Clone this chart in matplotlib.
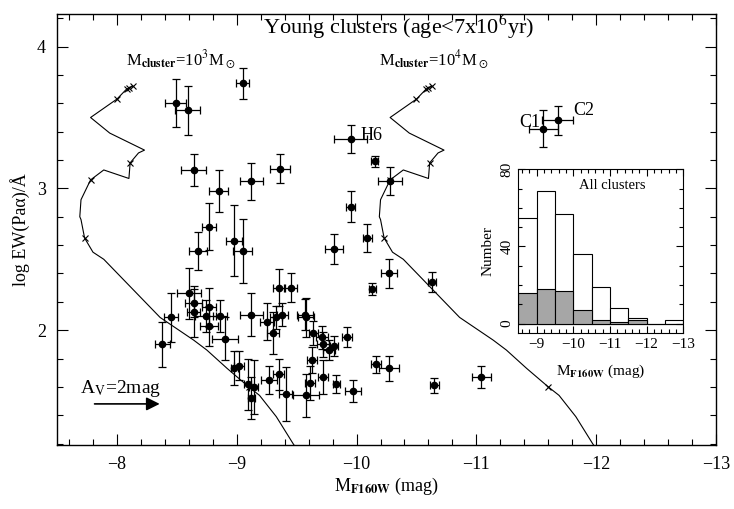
import numpy as np
import matplotlib
matplotlib.use("Agg")
import matplotlib.pyplot as plt
from matplotlib.ticker import MultipleLocator

plt.rcParams['font.family'] = ['Liberation Serif', 'DejaVu Serif']
plt.rcParams['mathtext.fontset'] = 'stix'

# young clusters: M_F160W, log EW(Pa alpha), errors
mag = [-9.05, -8.49, -8.59, -8.64, -8.85, -9.12, -9.36, -8.77, -8.68, -8.98,
       -9.05, -9.95, -10.15, -10.28, -9.95, -9.81, -10.09, -10.27, -10.13, -10.63,
       -10.65, -11.04, -11.56, -11.68,
       -8.60, -8.64, -8.64, -8.77, -8.74, -8.86, -8.77, -8.45, -8.38, -8.90,
       -9.12, -9.35, -9.45, -9.25, -9.33, -9.38, -9.30, -9.57, -9.58, -9.64,
       -9.71, -9.72, -9.77, -9.81, -9.92, -9.63, -10.16, -10.27, -8.98, -9.02,
       -9.09, -9.14, -9.12, -9.27, -9.35, -9.41, -9.58, -9.61, -9.72, -9.83, -9.97]
logew = [3.74, 3.60, 3.55, 3.13, 2.98, 3.05, 3.14, 2.73, 2.56, 2.63,
         2.56, 3.35, 3.19, 3.05, 2.87, 2.57, 2.65, 2.40, 2.29, 2.34,
         1.61, 1.67, 3.42, 3.48,
         2.26, 2.19, 2.13, 2.16, 2.10, 2.10, 2.03, 2.09, 1.90, 1.94,
         2.11, 2.30, 2.30, 2.06, 2.09, 2.11, 1.98, 2.11, 2.09, 1.98,
         1.95, 1.90, 1.86, 1.89, 1.95, 1.79, 1.76, 1.73, 1.73, 1.75,
         1.62, 1.60, 1.52, 1.65, 1.69, 1.55, 1.54, 1.63, 1.67, 1.62, 1.57]
mag_err = [0.055, 0.09, 0.105, 0.105, 0.078, 0.096, 0.085, 0.057, 0.075, 0.067,
           0.078, 0.14, 0.03, 0.10, 0.04, 0.074, 0.04, 0.065, 0.03, 0.035,
           0.04, 0.078, 0.125, 0.13,
           0.10, 0.07, 0.055, 0.06, 0.09, 0.06, 0.075, 0.06, 0.065, 0.11,
           0.095, 0.05, 0.055, 0.06, 0.05, 0.045, 0.05, 0.067, 0.067, 0.04,
           0.05, 0.05, 0.05, 0.035, 0.04, 0.04, 0.04, 0.085, 0.03, 0.04,
           0.03, 0.04, 0.03, 0.065, 0.045, 0.055, 0.11, 0.04, 0.04, 0.03, 0.065]
logew_err = [0.11, 0.17, 0.17, 0.11, 0.15, 0.13, 0.10, 0.165, 0.135, 0.25,
             0.225, 0.10, 0.04, 0.10, 0.11, 0.106, 0.10, 0.10, 0.04, 0.07,
             0.05, 0.077, 0.13, 0.10,
             0.18, 0.10, 0.18, 0.14, 0.11, 0.11, 0.14, 0.17, 0.16, 0.15,
             0.15, 0.13, 0.10, 0.13, 0.08, 0.08, 0.15, 0.11, 0.14, 0.085,
             0.08, 0.09, 0.07, 0.07, 0.07, 0.09, 0.06, 0.085, 0.12, 0.10,
             0.18, 0.19, 0.15, 0.10, 0.11, 0.19, 0.15, 0.12, 0.12, 0.065, 0.08]

# model track for a 10^3 Msun cluster
track_mag = [-8.13, -8.08, -8.00, -7.78, -7.94, -8.23, -8.18, -8.11, -8.10, -7.89,
             -7.78, -7.70, -7.69, -7.70, -7.73, -7.80, -7.89, -8.36, -8.64, -8.75,
             -8.92, -9.10, -9.19, -9.33, -9.47, -9.55]
track_ew = [3.72, 3.70, 3.63, 3.50, 3.39, 3.27, 3.25, 3.18, 3.07, 3.13,
            3.06, 2.92, 2.80, 2.78, 2.65, 2.55, 2.50, 2.09, 1.93, 1.86,
            1.73, 1.60, 1.54, 1.39, 1.20, 1.10]
age_mag = [-8.13, -8.10, -8.08, -8.00, -8.11, -7.78, -7.73, -9.10]
age_ew = [3.72, 3.71, 3.70, 3.63, 3.18, 3.06, 2.65, 1.60]
mass_shift = -2.5 * np.log10(1e4 / 1e3)

# inset histogram
bin_edges = [-8.5, -9.0, -9.5, -10.0, -10.5, -11.0, -11.5, -12.0, -12.5, -13.0]
n_all = [55, 69, 57, 36, 19, 8, 3, 0, 2]
n_young = [16, 18, 17, 7, 2, 1, 2, 0, 0]

fig = plt.figure(figsize=(7.34, 5.09), dpi=100)
ax = fig.add_axes([0.0777, 0.1257, 0.8978, 0.8468])

ax.errorbar(mag, logew, xerr=mag_err, yerr=logew_err, fmt='o', ms=4.5,
            color='k', ecolor='k', elinewidth=0.9, capsize=3, capthick=0.9)

for shift in (0.0, mass_shift):
    ax.plot(np.array(track_mag) + shift, track_ew, color='k', lw=0.8)
    ax.plot(np.array(age_mag) + shift, age_ew, 'x', color='k', ms=5, mew=0.8)

ax.set_xlim(-7.5, -13.0)
ax.set_ylim(1.19, 4.23)
ax.xaxis.set_major_locator(MultipleLocator(1))
ax.xaxis.set_minor_locator(MultipleLocator(0.2))
ax.yaxis.set_major_locator(MultipleLocator(1))
ax.yaxis.set_minor_locator(MultipleLocator(0.2))
ax.tick_params(which='both', direction='in', top=True, right=True, labelsize=13, width=0.8)
ax.tick_params(which='major', length=8, pad=8)
ax.tick_params(which='minor', length=4)
for s in ax.spines.values():
    s.set_linewidth(1.0)

ax.set_xlabel(r'M$_{\mathbf{F160W}}$ (mag)', fontsize=13, labelpad=2)
ax.set_ylabel('log EW(Paα)/Å', fontsize=13, labelpad=5)

ax.text(-10.35, 4.14, r'Young clusters (age<7x10$^6$yr)', fontsize=16, ha='center', va='center')
ax.text(-8.53, 3.91, r'M$_{\mathbf{cluster}}$=10$^3$M$_\odot$', fontsize=12, ha='center', va='center')
ax.text(-10.64, 3.91, r'M$_{\mathbf{cluster}}$=10$^4$M$_\odot$', fontsize=12, ha='center', va='center')
ax.text(-10.03, 3.34, 'H6', fontsize=13, ha='left', va='baseline')
ax.text(-11.36, 3.43, 'C1', fontsize=13, ha='left', va='baseline')
ax.text(-11.81, 3.52, 'C2', fontsize=13, ha='left', va='baseline')
ax.text(-7.69, 1.555, r'A$_\mathrm{V}$=2mag', fontsize=14, ha='left', va='baseline')
ax.annotate('', xy=(-8.38, 1.48), xytext=(-7.79, 1.48),
            arrowprops=dict(arrowstyle='-|>', color='k', lw=1.2, mutation_scale=20))

# inset
ins = fig.add_axes([0.7061, 0.3452, 0.2248, 0.3222])
centers = [(a + b) / 2 for a, b in zip(bin_edges[:-1], bin_edges[1:])]
ins.bar(centers, n_all, width=0.5, facecolor='white', edgecolor='k', lw=0.8)
ins.bar(centers, n_young, width=0.5, facecolor='#a6a6a6', edgecolor='k', lw=0.8)
ins.set_xlim(-8.5, -13.0)
ins.set_ylim(-5, 80)
ins.xaxis.set_major_locator(MultipleLocator(1))
ins.xaxis.set_minor_locator(MultipleLocator(0.2))
ins.yaxis.set_major_locator(MultipleLocator(40))
ins.yaxis.set_minor_locator(MultipleLocator(10))
ins.tick_params(which='both', direction='in', top=True, right=True, labelsize=11, width=0.8)
ins.tick_params(which='major', length=5)
ins.tick_params(which='minor', length=3)
plt.setp(ins.get_yticklabels(), rotation=90, va='center')
ins.set_xlabel(r'M$_{\mathbf{F160W}}$ (mag)', fontsize=11, labelpad=8)
ins.set_ylabel('Number', fontsize=11, labelpad=4)
ins.text(0.57, 0.90, 'All clusters', fontsize=10.5, ha='center', va='center', transform=ins.transAxes)

fig.savefig("out.png", dpi=100)
